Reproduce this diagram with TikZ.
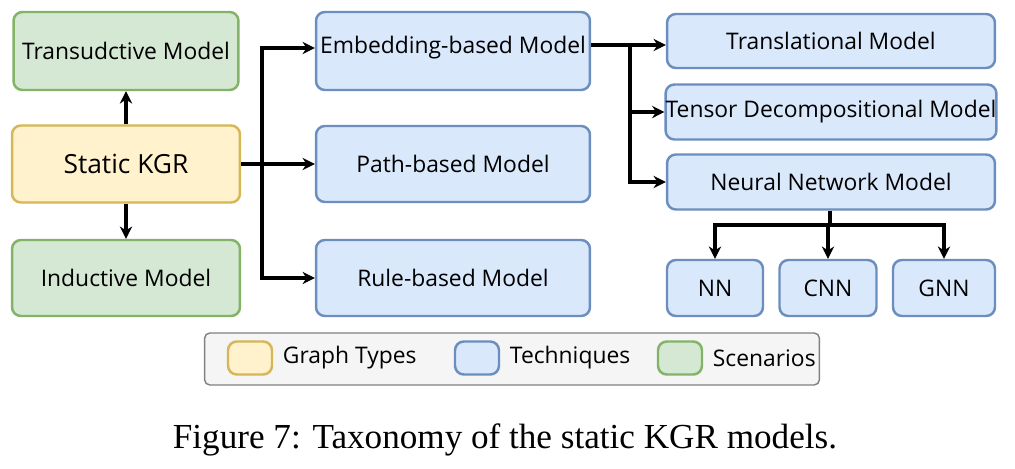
\documentclass[tikz,border=0pt]{standalone}
\usepackage{fontspec}
\setmainfont{Open Sans}
\newfontfamily\capfont{Liberation Serif}
\usepackage{xcolor}
\usetikzlibrary{arrows.meta,positioning}
\definecolor{gfill}{HTML}{D5E8D4}\definecolor{gline}{HTML}{82B366}
\definecolor{yfill}{HTML}{FFF2CC}\definecolor{yline}{HTML}{D6B656}
\definecolor{bfill}{HTML}{DAE8FC}\definecolor{bline}{HTML}{6C8EBF}
\tikzset{
  box/.style={draw, line width=1.4pt, rounded corners=5pt, align=center, inner sep=0pt, font=\fontsize{13}{15}\selectfont},
  scen/.style={box, fill=gfill, draw=gline},
  gtype/.style={box, fill=yfill, draw=yline},
  tech/.style={box, fill=bfill, draw=bline},
  arr/.style={-{Stealth[length=7pt,width=7pt]}, line width=2.2pt},
}
\begin{document}
\begin{tikzpicture}[x=0.02cm,y=-0.02cm]
    \useasboundingbox (0,0) rectangle (1015,468);
    % scenarios and graph type
    \node[scen, minimum width=4.5cm, minimum height=1.56cm] (trans) at (126,51) {Transudctive Model};
    \node[gtype, minimum width=4.56cm, minimum height=1.54cm, font=\fontsize{15}{17}\selectfont] (static) at (126,164) {Static KGR};
    \node[scen, minimum width=4.56cm, minimum height=1.52cm] (induct) at (126,278) {Inductive Model};
    % techniques
    \node[tech, minimum width=5.48cm, minimum height=1.56cm] (embed) at (453,51) {};
    \node[font=\fontsize{13}{15}\selectfont] (embedtxt) at (453,48) {Embedding-based Model};
    \node[tech, minimum width=5.48cm, minimum height=1.52cm] (path) at (453,164) {Path-based Model};
    \node[tech, minimum width=5.48cm, minimum height=1.52cm] (rule) at (453,278) {Rule-based Model};
    \node[tech, minimum width=6.56cm, minimum height=1.08cm] (transl) at (831,41) {Translational Model};
    \node[tech, minimum width=6.56cm, minimum height=1.1cm] (tensor) at (831,112) {Tensor Decompositional Model};
    \node[tech, minimum width=6.56cm, minimum height=1.1cm] (neural) at (831,182) {Neural Network Model};
    \node[tech, minimum width=1.92cm, minimum height=1.12cm] (nn) at (715,288) {NN};
    \node[tech, minimum width=1.94cm, minimum height=1.12cm] (cnn) at (828,288) {CNN};
    \node[tech, minimum width=2.04cm, minimum height=1.12cm] (gnn) at (944,288) {GNN};
    % connectors
    \coordinate (s1) at (262,164);
    \coordinate (e1) at (630,45);
    \coordinate (n1) at (830,225);
    \draw[arr] (static.north) -- (trans.south);
    \draw[arr] (static.south) -- (induct.north);
    \draw[line width=2.2pt] (static.east) -- (s1);
    \draw[arr] (s1) |- (embed.west |- embedtxt);
    \draw[arr] (s1) -- (path.west);
    \draw[arr] (s1) |- (rule.west);
    \draw[line width=2.2pt] (embed.east |- e1) -- (e1);
    \draw[arr] (e1) -- (transl.west |- e1);
    \draw[arr] (e1) |- (tensor.west);
    \draw[arr] (e1) |- (neural.west);
    \draw[line width=2.2pt] (neural.south -| n1) -- (n1);
    \draw[arr] (n1) -| (nn.north);
    \draw[arr] (n1) -| (cnn.north);
    \draw[arr] (n1) -| (gnn.north);
    % legend
    \node[draw=gray, fill=gray!8, line width=0.8pt, rounded corners=3pt, minimum width=12.3cm, minimum height=1.04cm] (legend) at (512,359) {};
    \node[gtype, minimum width=0.88cm, minimum height=0.66cm] (lg) at (250,358) {};
    \node[right=2pt of lg, font=\fontsize{13}{15}\selectfont] (lgt) {Graph Types};
    \node[tech, minimum width=0.88cm, minimum height=0.66cm] (lb) at (477,358) {};
    \node[right=2pt of lb, font=\fontsize{13}{15}\selectfont] (lbt) {Techniques};
    \node[scen, minimum width=0.88cm, minimum height=0.66cm] (lgr) at (680,358) {};
    \node[right=2pt of lgr, font=\fontsize{13}{15}\selectfont] (lgrt) {Scenarios};
    % caption
    \node[font=\capfont\fontsize{20}{22}\selectfont] (caption) at (505,440) {Figure 7: Taxonomy of the static KGR models.};
\end{tikzpicture}
\end{document}
